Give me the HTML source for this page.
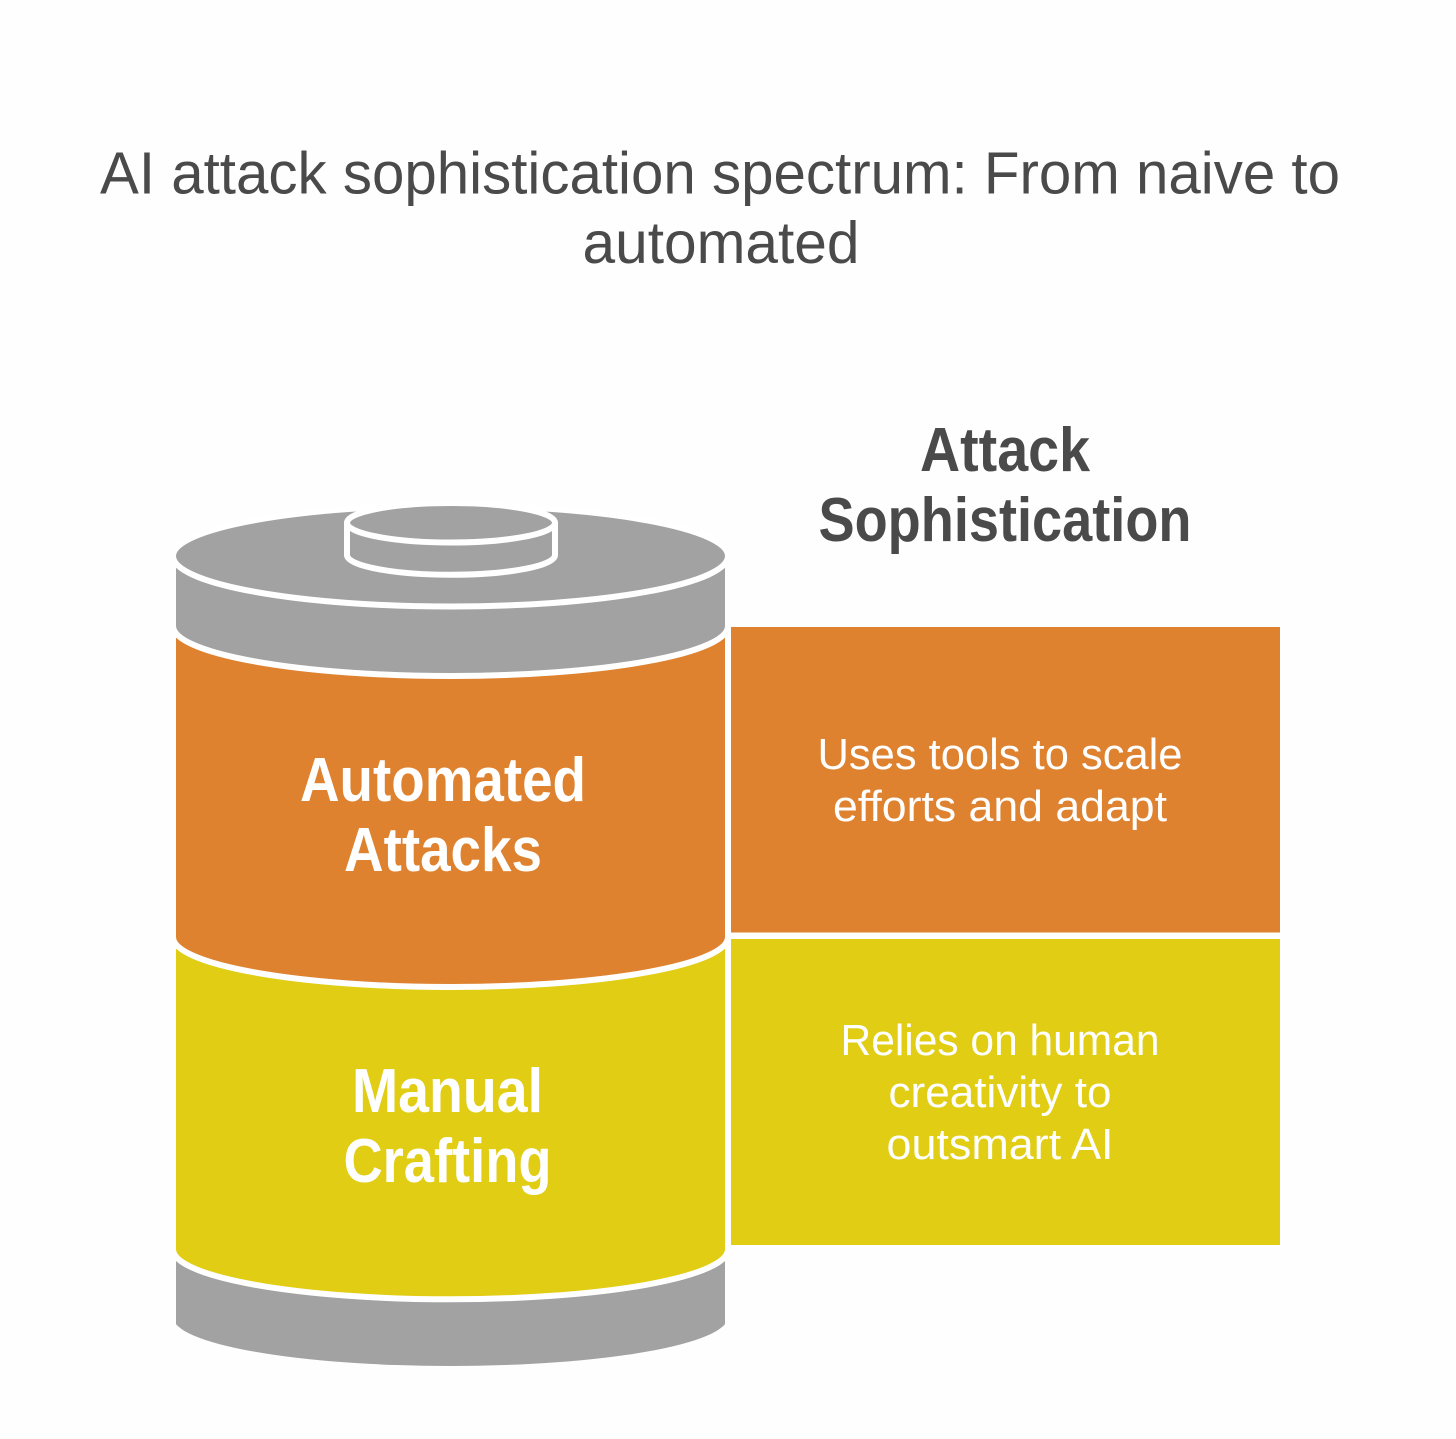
<!DOCTYPE html>
<html>
<head>
<meta charset="utf-8">
<style>
html,body{margin:0;padding:0;background:#fefefe;}
svg{display:block;}
text{font-family:"Liberation Sans",Arial,sans-serif;text-anchor:middle;}
</style>
</head>
<body>
<svg width="1456" height="1439" viewBox="0 0 1456 1439" xmlns="http://www.w3.org/2000/svg">
<defs>
<clipPath id="body"><rect x="176" y="480" width="549" height="900"/></clipPath>
</defs>
<rect width="1456" height="1439" fill="#fefefe"/>
<text x="720" y="193.500" font-size="59" fill="#4a4a4a" textLength="1240" lengthAdjust="spacingAndGlyphs">AI attack sophistication spectrum: From naive to</text>
<text x="721" y="263" font-size="59" fill="#4a4a4a" textLength="277" lengthAdjust="spacingAndGlyphs">automated</text>

<g clip-path="url(#body)">
<!-- bottom gray -->
<path d="M173 1240 V1317 A277.500 49 0 0 0 728 1317 V1240 Z" fill="#a2a2a2"/>
<!-- yellow -->
<path d="M173 930 V1249.300 A277.500 50 0 0 0 728 1249.300 V930 Z" fill="#e0cd14" stroke="#ffffff" stroke-width="6"/>
<!-- orange -->
<path d="M173 620 V937 A277.500 50 0 0 0 728 937 V620 Z" fill="#de8230" stroke="#ffffff" stroke-width="6"/>
<!-- top gray -->
<path d="M173 556 V626 A277.500 50 0 0 0 728 626 V556 Z" fill="#a2a2a2" stroke="#ffffff" stroke-width="6"/>
<ellipse cx="450.500" cy="556" rx="277.500" ry="50.500" fill="#a2a2a2" stroke="#ffffff" stroke-width="6"/>
</g>
<path d="M347 522.750 V555 A104 19.750 0 0 0 555 555 V522.750 Z" fill="#a2a2a2" stroke="#ffffff" stroke-width="6" stroke-linejoin="round"/>
<ellipse cx="451" cy="522.750" rx="104" ry="19.750" fill="#a2a2a2" stroke="#ffffff" stroke-width="6"/>

<rect x="731" y="627" width="549" height="305.500" fill="#de8230"/>
<rect x="731" y="939" width="549" height="306" fill="#e0cd14"/>

<g font-size="62" font-weight="700" fill="#ffffff">
<text x="443" y="801" textLength="286" lengthAdjust="spacingAndGlyphs">Automated</text>
<text x="443" y="871" textLength="198" lengthAdjust="spacingAndGlyphs">Attacks</text>
<text x="447.500" y="1112" textLength="191" lengthAdjust="spacingAndGlyphs">Manual</text>
<text x="447.500" y="1182" textLength="208" lengthAdjust="spacingAndGlyphs">Crafting</text>
</g>
<g font-size="62" font-weight="700" fill="#4a4a4a">
<text x="1005" y="471" textLength="170" lengthAdjust="spacingAndGlyphs">Attack</text>
<text x="1005" y="541" textLength="373" lengthAdjust="spacingAndGlyphs">Sophistication</text>
</g>
<g font-size="44" fill="#ffffff">
<text x="1000" y="769" textLength="365" lengthAdjust="spacingAndGlyphs">Uses tools to scale</text>
<text x="1000" y="821" textLength="334" lengthAdjust="spacingAndGlyphs">efforts and adapt</text>
<text x="1000" y="1055" textLength="319" lengthAdjust="spacingAndGlyphs">Relies on human</text>
<text x="1000" y="1107" textLength="223" lengthAdjust="spacingAndGlyphs">creativity to</text>
<text x="1000" y="1159" textLength="227" lengthAdjust="spacingAndGlyphs">outsmart AI</text>
</g>
</svg>
</body>
</html>
